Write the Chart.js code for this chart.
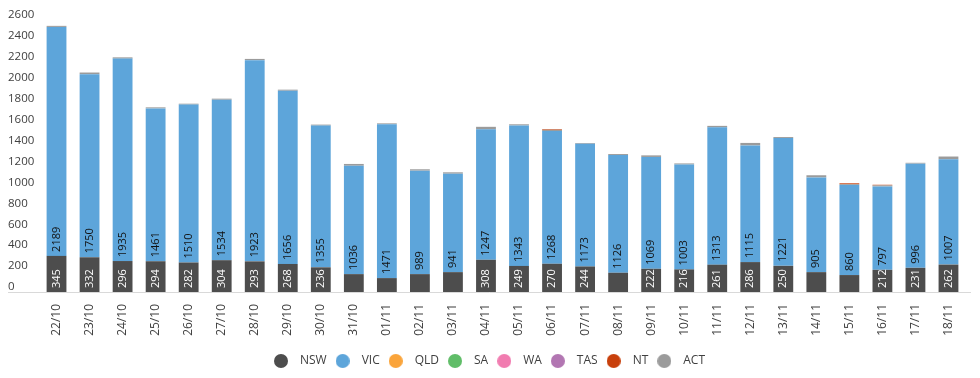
<!DOCTYPE html>
<html>
<head>
<meta charset="utf-8">
<script src="https://cdn.jsdelivr.net/npm/chart.js@4"></script>
<style>
    body { margin: 0; background: #fff; }
    #wrap { width: 980px; height: 378px; }
</style>
</head>
<body>
<div id="wrap"><canvas id="chart_cases"></canvas></div>
<script>
const dates = ['22/10','23/10','24/10','25/10','26/10','27/10','28/10','29/10','30/10','31/10',
    '01/11','02/11','03/11','04/11','05/11','06/11','07/11','08/11','09/11','10/11',
    '11/11','12/11','13/11','14/11','15/11','16/11','17/11','18/11'];
const states = ['NSW','VIC','QLD','SA','WA','TAS','NT','ACT'];

const nsw = [345,332,296,294,282,304,293,268,236,171,133,171,190,308,249,270,244,184,222,216,261,286,250,190,162,212,231,262];
const vic = [2189,1750,1935,1461,1510,1534,1923,1656,1355,1036,1471,989,941,1247,1343,1268,1173,1126,1069,1003,1313,1115,1221,905,860,797,996,1007];
const qld = [0,0,0,0,0,0,0,0,0,0,0,0,0,0,0,0,0,0,0,0,0,0,0,0,0,0,0,0];
const sa  = [0,0,0,0,0,0,0,0,0,0,0,0,0,0,0,0,0,0,0,0,0,0,0,0,0,0,0,0];
const wa  = [0,0,0,0,0,0,0,0,0,0,0,0,0,0,0,0,0,0,0,0,0,0,0,0,0,0,0,0];
const tas = [0,0,0,0,0,0,0,0,0,0,0,0,0,0,0,0,0,0,0,0,0,0,0,0,0,0,0,0];
const nt  = [0,0,0,0,0,0,0,0,0,0,0,0,0,0,0,6,0,0,0,0,0,0,0,0,8,6,0,0];
const act = [10,16,12,10,8,10,12,10,9,17,8,13,13,24,11,12,7,9,15,10,14,24,10,21,9,10,8,26];

const colours = ['#4d4d4d','#5da5da','#faa43a','#60bd68','#f17cb0','#b276b2','#c8400c','#9b9b9b'];
const yTicks = {min: 0, max: 2600, step: 200};

const FONT = '"Open Sans", "DejaVu Sans", sans-serif';
const TEXT = '#404040';

// little round marker for the legend
function legendDot(colour) {
    const c = document.createElement('canvas');
    c.width = 14; c.height = 14;
    const g = c.getContext('2d');
    g.fillStyle = colour;
    g.beginPath();
    g.arc(7, 7, 7, 0, Math.PI * 2);
    g.fill();
    return c;
}

// vertical value labels at the foot of NSW and VIC segments
const segmentLabels = {
    id: 'segmentLabels',
    afterDatasetsDraw(chart) {
        const ctx = chart.ctx;
        [0, 1].forEach(di => {
            const meta = chart.getDatasetMeta(di);
            meta.data.forEach((bar, i) => {
                const text = String(chart.data.datasets[di].data[i]);
                ctx.save();
                ctx.font = '11px ' + FONT;
                const w = ctx.measureText(text).width;
                const h = bar.base - bar.y;
                if (w + 3 <= h) {  // skip the ones that don't fit
                    ctx.translate(bar.x, bar.base - 4);
                    ctx.rotate(-Math.PI / 2);
                    ctx.textAlign = 'left';
                    ctx.textBaseline = 'middle';
                    ctx.fillStyle = di === 0 ? '#ffffff' : '#111111';
                    ctx.fillText(text, 0, 0);
                }
                ctx.restore();
            });
        });
    }
};

// light base line that runs under the y labels too
const baseLine = {
    id: 'baseLine',
    beforeDatasetsDraw(chart) {
        const ctx = chart.ctx;
        const y = Math.round(chart.scales.y.getPixelForValue(0)) + 0.5;
        ctx.save();
        ctx.strokeStyle = '#d9d9d9';
        ctx.lineWidth = 1;
        ctx.beginPath();
        ctx.moveTo(8, y);
        ctx.lineTo(chart.chartArea.right + 6, y);
        ctx.stroke();
        ctx.restore();
    }
};

function makeDataset(i, data) {
    return {
        label: states[i],
        data: data,
        backgroundColor: colours[i],
        borderWidth: 0,
        pointStyle: legendDot(colours[i]),
        barPercentage: 0.6,
        categoryPercentage: 1.0
    };
}

const all = [nsw, vic, qld, sa, wa, tas, nt, act];
// ACT goes in the stack before NT, so NT sits on top as in the picture
const stackOrder = [0, 1, 2, 3, 4, 5, 7, 6];

const ctx = document.getElementById('chart_cases').getContext('2d');
const casesChart = new Chart(ctx, {
    type: 'bar',
    data: {
        labels: dates,
        datasets: stackOrder.map(i => makeDataset(i, all[i]))
    },
    options: {
        responsive: true,
        maintainAspectRatio: false,
        animation: false,
        layout: { padding: { left: 8, right: 15, top: 20, bottom: 1 } },
        plugins: {
            tooltip: { enabled: false },
            legend: {
                position: 'bottom',
                labels: {
                    usePointStyle: true,
                    boxHeight: 10,
                    pointStyleWidth: 26,
                    padding: 3,
                    color: TEXT,
                    font: { family: FONT, size: 12 },
                    sort: (a, b) => states.indexOf(a.text) - states.indexOf(b.text)
                }
            }
        },
        scales: {
            x: {
                stacked: true,
                grid: { display: false },
                border: { display: false },
                ticks: {
                    color: TEXT,
                    font: { family: FONT, size: 12 },
                    minRotation: 90,
                    maxRotation: 90,
                    padding: 4,
                    autoSkip: false
                },
                afterFit: scale => { scale.height = 60; }
            },
            y: {
                stacked: true,
                min: yTicks.min,
                max: yTicks.max,
                grid: { display: false },
                border: { display: false },
                ticks: {
                    stepSize: yTicks.step,
                    color: TEXT,
                    font: { family: FONT, size: 11.5 },
                    crossAlign: 'far',
                    labelOffset: -5,
                    padding: 4,
                    callback: v => String(v)
                },
                afterFit: scale => { scale.width = 32; }
            }
        }
    },
    plugins: [segmentLabels, baseLine]
});
</script>
</body>
</html>
